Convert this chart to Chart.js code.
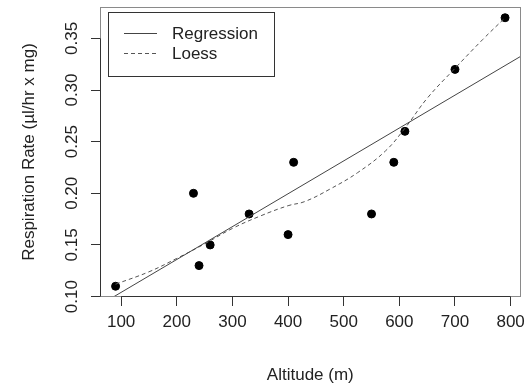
<!DOCTYPE html>
<html>
<head>
<meta charset="utf-8">
<script src="https://cdn.jsdelivr.net/npm/chart.js@4/dist/chart.umd.min.js"></script>
<style>
  html, body { margin: 0; padding: 0; background: #fff; }
  canvas { display: block; }
</style>
</head>
<body>
<canvas id="chart" width="531" height="388"></canvas>
<script>
/* Messpunkte */
const altitude = [90, 230, 240, 260, 330, 400, 410, 550, 590, 610, 700, 790];
const respRate = [0.11, 0.20, 0.13, 0.15, 0.18, 0.16, 0.23, 0.18, 0.23, 0.26, 0.32, 0.37];

const regressionX = [62, 818];
const regressionY = [0.092, 0.3326];

/* Loess-Kurve */
const loessX = [90, 150, 200, 250, 300, 350, 400, 430, 475, 525, 575, 610, 650, 700, 750, 790];
const loessY = [0.112, 0.124, 0.137, 0.151, 0.166, 0.178, 0.188, 0.192, 0.204, 0.220, 0.241, 0.263, 0.292, 0.321, 0.349, 0.370];

/* Achsen */
const xTicks = [100, 200, 300, 400, 500, 600, 700, 800];
const yTicks = [0.10, 0.15, 0.20, 0.25, 0.30, 0.35];
const xRange = [62, 818];
const yRange = [0.0996, 0.3804];

const xTitle = 'Altitude (m)';
const yTitle = 'Respiration Rate (µl/hr x mg)';
const seriesNames = ['Regression', 'Loess'];

const FONT = "'Liberation Sans', Arial, sans-serif";
const TEXT = '#222';

const toPoints = (xs, ys) => xs.map((x, i) => ({ x, y: ys[i] }));

/* Rahmen, Achsenlinien, y-Beschriftung und Legende */
const rPlotDeko = {
  id: 'rPlotDeko',
  afterDraw(chart) {
    const { ctx, chartArea: a, scales: { x, y } } = chart;
    ctx.save();
    // Rahmen
    ctx.strokeStyle = '#8a8a8a';
    ctx.lineWidth = 1;
    ctx.strokeRect(Math.round(a.left) + 0.5, Math.round(a.top) + 0.5,
      Math.round(a.right - a.left) - 1, Math.round(a.bottom - a.top) - 1);
    // Achsenlinien von erster bis letzter Marke
    ctx.strokeStyle = '#333';
    const by = Math.round(a.bottom) - 0.5;
    ctx.beginPath();
    ctx.moveTo(x.getPixelForValue(xTicks[0]), by);
    ctx.lineTo(x.getPixelForValue(xTicks[xTicks.length - 1]), by);
    const lx = Math.round(a.left) + 0.5;
    ctx.moveTo(lx, y.getPixelForValue(yTicks[0]));
    ctx.lineTo(lx, y.getPixelForValue(yTicks[yTicks.length - 1]));
    ctx.stroke();

    // y-Ticklabels gedreht
    ctx.fillStyle = TEXT;
    ctx.font = `17px ${FONT}`;
    ctx.textAlign = 'center';
    ctx.textBaseline = 'middle';
    yTicks.forEach(v => {
      ctx.save();
      ctx.translate(72, y.getPixelForValue(v));
      ctx.rotate(-Math.PI / 2);
      ctx.fillText(v.toFixed(2), 0, 0);
      ctx.restore();
    });

    // Legende
    ctx.fillStyle = '#fff';
    ctx.fillRect(108, 12, 166, 64);
    ctx.strokeStyle = '#333';
    ctx.strokeRect(108.5, 12.5, 166, 64);
    const rows = [33, 53];
    chart.data.datasets.slice(0, 2).forEach((ds, i) => {
      ctx.strokeStyle = ds.borderColor;
      ctx.setLineDash(ds.borderDash || []);
      ctx.beginPath();
      ctx.moveTo(124, rows[i] + 0.5);
      ctx.lineTo(157, rows[i] + 0.5);
      ctx.stroke();
      ctx.setLineDash([]);
      ctx.fillStyle = TEXT;
      ctx.textAlign = 'left';
      ctx.fillText(ds.label, 172, rows[i] + 1.5);
    });
    ctx.restore();
  }
};

new Chart(document.getElementById('chart'), {
  type: 'scatter',
  data: {
    datasets: [
      {
        type: 'line',
        label: seriesNames[0],
        data: toPoints(regressionX, regressionY),
        borderColor: '#444',
        borderWidth: 1,
        pointRadius: 0,
        fill: false,
        clip: 0,
      },
      {
        type: 'line',
        label: seriesNames[1],
        data: toPoints(loessX, loessY),
        borderColor: '#555',
        borderWidth: 1,
        borderDash: [4, 3],
        pointRadius: 0,
        tension: 0.4,
        fill: false,
        clip: 0,
      },
      {
        label: 'Daten',
        data: toPoints(altitude, respRate),
        backgroundColor: '#000',
        borderColor: '#000',
        pointRadius: 4,
        clip: false,
      },
    ],
  },
  options: {
    responsive: false,
    animation: false,
    layout: { padding: { top: 7, right: 8, left: 0, bottom: 0 } },
    plugins: { legend: { display: false }, tooltip: { enabled: false } },
    scales: {
      x: {
        type: 'linear',
        min: xRange[0],
        max: xRange[1],
        afterBuildTicks: s => { s.ticks = xTicks.map(v => ({ value: v })); },
        afterFit: s => { s.height = 91; },
        grid: { drawOnChartArea: false, drawTicks: true, tickLength: 9, color: '#333' },
        border: { display: false },
        ticks: { color: TEXT, font: { family: FONT, size: 17 }, padding: 6, maxRotation: 0 },
        title: { display: true, text: xTitle, color: TEXT, font: { family: FONT, size: 17 }, padding: { top: 0, bottom: 2 } },
      },
      y: {
        type: 'linear',
        min: yRange[0],
        max: yRange[1],
        afterBuildTicks: s => { s.ticks = yTicks.map(v => ({ value: v })); },
        afterFit: s => { s.width = 100; },
        grid: { drawOnChartArea: false, drawTicks: true, tickLength: 9, color: '#333' },
        border: { display: false },
        ticks: { display: false },
        title: { display: true, text: yTitle, color: TEXT, font: { family: FONT, size: 17 }, padding: { top: 19, bottom: 0 } },
      },
    },
  },
  plugins: [rPlotDeko],
});
</script>
</body>
</html>
